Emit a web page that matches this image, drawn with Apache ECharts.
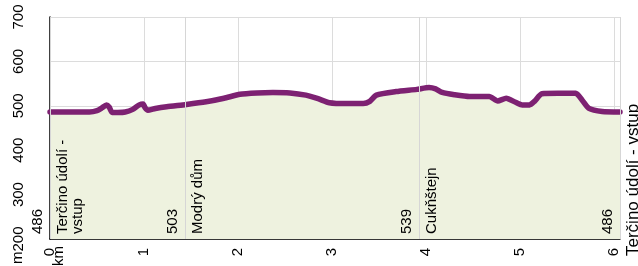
<!DOCTYPE html>
<html><head><meta charset="utf-8">
<script src="https://cdn.jsdelivr.net/npm/echarts@6/dist/echarts.min.js"></script>
<style>html,body{margin:0;padding:0;background:#fff}#c{width:638px;height:266px}</style>
</head><body><div id="c"></div>
<script>
const distKm = [0, 0.3, 0.42, 0.5, 0.55, 0.6, 0.63, 0.66, 0.72, 0.8, 0.88, 0.95, 0.99, 1.01, 1.04, 1.12, 1.24, 1.45, 1.66, 1.85, 2.02, 2.2, 2.37, 2.55, 2.72, 2.85, 2.97, 3.15, 3.33, 3.4, 3.47, 3.68, 3.9, 4.03, 4.1, 4.17, 4.3, 4.46, 4.67, 4.76, 4.85, 4.95, 5.02, 5.1, 5.15, 5.23, 5.4, 5.59, 5.66, 5.73, 5.87, 6.06];
const elevM = [486, 486, 486, 489, 495, 502, 497, 485, 485, 486, 492, 502, 504, 496, 490, 494, 498, 503, 509, 517, 526, 529, 530, 529, 524, 516, 507, 505, 505, 510, 524, 532, 537, 541, 538, 530, 525, 521, 521, 511, 517, 508, 502, 502, 510, 527, 528, 528, 512, 494, 487, 486];
const wpKm = [0, 1.44, 3.93, 6.06];
const wpElev = ['486', '503', '539', '486'];
const wpName = ['Terčino údolí -\nvstup', 'Modrý dům', 'Cukňštejn', 'Terčino údolí - vstup'];
const yTicks = [200, 300, 400, 500, 600, 700];
const xTicks = [0, 1, 2, 3, 4, 5, 6];

const FONT = 'Liberation Sans, Arial, sans-serif';
const chart = echarts.init(document.getElementById('c'), null, {renderer: 'canvas'});
const mlData = [];
wpKm.forEach((k, i) => {
  mlData.push({xAxis: k, label: {formatter: wpElev[i], position: 'insideStartTop'}});
  const last = i === wpKm.length - 1;
  mlData.push({xAxis: k, label: last
    ? {formatter: wpName[i], position: 'insideStartBottom', fontSize: 17, offset: [-12, 0]}
    : {formatter: wpName[i], position: 'insideStartBottom'}});
});
chart.setOption({
  animation: false,
  grid: {left: 50, right: 18, top: 17, bottom: 27},
  xAxis: {
    type: 'value', min: 0, max: distKm[distKm.length - 1], interval: 1,
    axisLine: {show: true, lineStyle: {color: '#000', width: 1.5}},
    axisTick: {show: false},
    splitLine: {show: true, lineStyle: {color: '#dcdcdc', width: 1}},
    axisLabel: {rotate: 90, fontSize: 15, color: '#000', fontFamily: FONT, margin: 9, showMaxLabel: false,
      formatter: v => xTicks.includes(v) ? String(v) : ''}
  },
  yAxis: {
    type: 'value', min: yTicks[0], max: yTicks[yTicks.length - 1], interval: 100,
    axisLine: {show: true, lineStyle: {color: '#000', width: 1.5}},
    axisTick: {show: false},
    splitLine: {show: true, lineStyle: {color: '#dcdcdc', width: 1}},
    axisLabel: {rotate: 90, fontSize: 15, color: '#000', fontFamily: FONT, margin: 24}
  },
  graphic: [
    {type: 'text', x: 18, y: 264, rotation: Math.PI / 2, style: {text: 'm', fontSize: 15, fontFamily: FONT, fill: '#000', align: 'left', verticalAlign: 'middle'}},
    {type: 'text', x: 59, y: 266, rotation: Math.PI / 2, style: {text: 'km', fontSize: 15, fontFamily: FONT, fill: '#000', align: 'left', verticalAlign: 'middle'}}
  ],
  series: [{
    type: 'line',
    data: distKm.map((d, i) => [d, elevM[i]]),
    showSymbol: false,
    smooth: 0.2,
    lineStyle: {color: '#7d2172', width: 5.5, cap: 'round', join: 'round'},
    areaStyle: {color: '#eef2df', opacity: 1, origin: 'start'},
    markLine: {
      silent: true, symbol: 'none',
      lineStyle: {color: '#d6d6d6', width: 1, type: 'solid'},
      label: {fontSize: 15, color: '#000', fontFamily: FONT, distance: 5},
      data: mlData
    }
  }]
});
</script></body></html>
